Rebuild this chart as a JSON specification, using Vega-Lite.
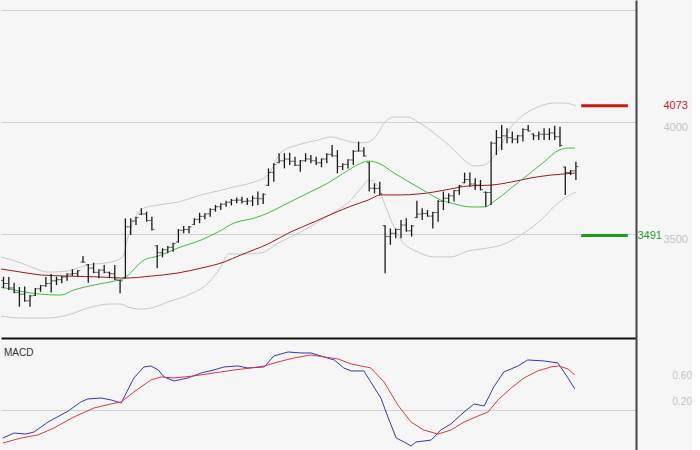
{
"$schema":"https://vega.github.io/schema/vega-lite/v6.json",
"background":"#f6f6f6",
"padding":0,
"spacing":0,
"config":{"view":{"stroke":null},"font":"Liberation Sans"},
"resolve":{"scale":{"x":"independent","y":"independent","color":"independent"}},
"datasets":{
"bars":[
{"i":0,"o":3290,"h":3306,"l":3254,"c":3276},{"i":1,"o":3276,"h":3305,"l":3247,"c":3256},{"i":2,"o":3256,"h":3279,"l":3232,"c":3236},{"i":3,"o":3236,"h":3260,"l":3172,"c":3228},{"i":4,"o":3228,"h":3262,"l":3194,"c":3198},{"i":5,"o":3198,"h":3224,"l":3172,"c":3220},{"i":6,"o":3222,"h":3256,"l":3220,"c":3252},{"i":7,"o":3252,"h":3269,"l":3239,"c":3266},{"i":8,"o":3266,"h":3305,"l":3261,"c":3276},{"i":9,"o":3276,"h":3318,"l":3235,"c":3288},
{"i":10,"o":3288,"h":3306,"l":3269,"c":3293},{"i":11,"o":3293,"h":3310,"l":3277,"c":3305},{"i":12,"o":3305,"h":3322,"l":3288,"c":3318},{"i":13,"o":3318,"h":3340,"l":3310,"c":3321},{"i":14,"o":3321,"h":3336,"l":3306,"c":3333},{"i":15,"o":3372,"h":3399,"l":3369,"c":3372},{"i":16,"o":3360,"h":3363,"l":3279,"c":3345},{"i":17,"o":3345,"h":3369,"l":3322,"c":3326},{"i":18,"o":3326,"h":3340,"l":3299,"c":3336},{"i":19,"o":3336,"h":3359,"l":3322,"c":3326},
{"i":20,"o":3326,"h":3329,"l":3299,"c":3320},{"i":21,"o":3320,"h":3359,"l":3292,"c":3295},{"i":22,"o":3290,"h":3292,"l":3232,"c":3288},{"i":23,"o":3302,"h":3568,"l":3299,"c":3530},{"i":24,"o":3530,"h":3568,"l":3493,"c":3556},{"i":25,"o":3556,"h":3575,"l":3538,"c":3572},{"i":26,"o":3586,"h":3613,"l":3583,"c":3588},{"i":27,"o":3588,"h":3598,"l":3553,"c":3558},{"i":28,"o":3558,"h":3575,"l":3513,"c":3518},{"i":29,"o":3445,"h":3449,"l":3344,"c":3414},
{"i":30,"o":3414,"h":3434,"l":3393,"c":3427},{"i":31,"o":3427,"h":3444,"l":3411,"c":3438},{"i":32,"o":3438,"h":3459,"l":3418,"c":3455},{"i":33,"o":3462,"h":3519,"l":3459,"c":3515},{"i":34,"o":3515,"h":3534,"l":3501,"c":3518},{"i":35,"o":3518,"h":3534,"l":3501,"c":3530},{"i":36,"o":3540,"h":3568,"l":3538,"c":3564},{"i":37,"o":3564,"h":3593,"l":3546,"c":3577},{"i":38,"o":3577,"h":3591,"l":3564,"c":3588},{"i":39,"o":3588,"h":3613,"l":3575,"c":3608},
{"i":40,"o":3608,"h":3628,"l":3598,"c":3620},{"i":41,"o":3620,"h":3636,"l":3605,"c":3632},{"i":42,"o":3632,"h":3647,"l":3620,"c":3640},{"i":43,"o":3640,"h":3655,"l":3626,"c":3649},{"i":44,"o":3649,"h":3662,"l":3636,"c":3650},{"i":45,"o":3650,"h":3665,"l":3635,"c":3644},{"i":46,"o":3644,"h":3659,"l":3628,"c":3646},{"i":47,"o":3646,"h":3670,"l":3623,"c":3658},{"i":48,"o":3658,"h":3688,"l":3628,"c":3656},{"i":49,"o":3656,"h":3680,"l":3632,"c":3676},
{"i":50,"o":3716,"h":3792,"l":3713,"c":3774},{"i":51,"o":3774,"h":3815,"l":3732,"c":3810},{"i":52,"o":3818,"h":3860,"l":3815,"c":3826},{"i":53,"o":3826,"h":3860,"l":3792,"c":3834},{"i":54,"o":3834,"h":3862,"l":3807,"c":3824},{"i":55,"o":3824,"h":3844,"l":3803,"c":3806},{"i":56,"o":3806,"h":3830,"l":3777,"c":3826},{"i":57,"o":3826,"h":3860,"l":3822,"c":3834},{"i":58,"o":3834,"h":3852,"l":3815,"c":3826},{"i":59,"o":3826,"h":3844,"l":3807,"c":3817},
{"i":60,"o":3817,"h":3837,"l":3797,"c":3834},{"i":61,"o":3834,"h":3860,"l":3815,"c":3855},{"i":62,"o":3855,"h":3897,"l":3844,"c":3848},{"i":63,"o":3848,"h":3874,"l":3770,"c":3800},{"i":64,"o":3800,"h":3815,"l":3785,"c":3810},{"i":65,"o":3810,"h":3833,"l":3792,"c":3830},{"i":66,"o":3830,"h":3874,"l":3807,"c":3868},{"i":67,"o":3870,"h":3912,"l":3867,"c":3870},{"i":68,"o":3870,"h":3887,"l":3844,"c":3848},{"i":69,"o":3818,"h":3822,"l":3688,"c":3703},
{"i":70,"o":3703,"h":3725,"l":3680,"c":3702},{"i":71,"o":3702,"h":3732,"l":3673,"c":3678},{"i":72,"o":3535,"h":3538,"l":3322,"c":3486},{"i":73,"o":3486,"h":3523,"l":3449,"c":3501},{"i":74,"o":3501,"h":3523,"l":3479,"c":3518},{"i":75,"o":3518,"h":3561,"l":3479,"c":3538},{"i":76,"o":3538,"h":3568,"l":3508,"c":3512},{"i":77,"o":3512,"h":3538,"l":3486,"c":3534},{"i":78,"o":3572,"h":3647,"l":3568,"c":3587},{"i":79,"o":3587,"h":3613,"l":3561,"c":3590},
{"i":80,"o":3590,"h":3605,"l":3575,"c":3578},{"i":81,"o":3578,"h":3598,"l":3523,"c":3594},{"i":82,"o":3594,"h":3650,"l":3553,"c":3644},{"i":83,"o":3644,"h":3688,"l":3605,"c":3658},{"i":84,"o":3658,"h":3680,"l":3636,"c":3669},{"i":85,"o":3669,"h":3695,"l":3643,"c":3692},{"i":86,"o":3692,"h":3718,"l":3673,"c":3714},{"i":87,"o":3728,"h":3773,"l":3725,"c":3742},{"i":88,"o":3742,"h":3773,"l":3710,"c":3722},{"i":89,"o":3722,"h":3748,"l":3695,"c":3717},
{"i":90,"o":3717,"h":3740,"l":3693,"c":3697},{"i":91,"o":3685,"h":3688,"l":3620,"c":3684},{"i":92,"o":3684,"h":3912,"l":3628,"c":3905},{"i":93,"o":3905,"h":3964,"l":3852,"c":3930},{"i":94,"o":3930,"h":3987,"l":3874,"c":3938},{"i":95,"o":3938,"h":3972,"l":3905,"c":3930},{"i":96,"o":3930,"h":3957,"l":3905,"c":3923},{"i":97,"o":3923,"h":3942,"l":3905,"c":3938},{"i":98,"o":3938,"h":3972,"l":3912,"c":3966},{"i":99,"o":3966,"h":3987,"l":3957,"c":3960},
{"i":100,"o":3946,"h":3949,"l":3919,"c":3938},{"i":101,"o":3938,"h":3957,"l":3919,"c":3945},{"i":102,"o":3945,"h":3972,"l":3919,"c":3945},{"i":103,"o":3945,"h":3972,"l":3919,"c":3951},{"i":104,"o":3951,"h":3983,"l":3919,"c":3934},{"i":105,"o":3934,"h":3979,"l":3889,"c":3895},{"i":106,"o":3798,"h":3800,"l":3673,"c":3774},{"i":107,"o":3774,"h":3785,"l":3762,"c":3781},{"i":108,"o":3781,"h":3822,"l":3740,"c":3800}
],
"lines":[
{"s":"U","i":-0.47,"v":3395},{"s":"U","i":3.3,"v":3368},{"s":"U","i":5.75,"v":3345},{"s":"U","i":8.4,"v":3327},{"s":"U","i":12.2,"v":3332},{"s":"U","i":15.9,"v":3359},{"s":"U","i":20.3,"v":3372},{"s":"U","i":22.5,"v":3395},{"s":"U","i":23.5,"v":3484},{"s":"U","i":24.6,"v":3560},{"s":"U","i":26.5,"v":3614},{"s":"U","i":29.2,"v":3628},{"s":"U","i":32.9,"v":3641},{"s":"U","i":37.3,"v":3673},{"s":"U","i":40.5,"v":3691},{"s":"U","i":43.5,"v":3709},{"s":"U","i":47.3,"v":3731},{"s":"U","i":49.9,"v":3762},{"s":"U","i":52.4,"v":3865},{"s":"U","i":55.6,"v":3897},{"s":"U","i":59.3,"v":3919},{"s":"U","i":61.8,"v":3933},{"s":"U","i":64.2,"v":3919},{"s":"U","i":66.9,"v":3906},{"s":"U","i":68.8,"v":3910},{"s":"U","i":70.7,"v":3951},{"s":"U","i":71.8,"v":3995},{"s":"U","i":73.7,"v":4022},{"s":"U","i":76.3,"v":4022},{"s":"U","i":78.2,"v":4000},{"s":"U","i":81.2,"v":3951},{"s":"U","i":84.4,"v":3888},{"s":"U","i":86.9,"v":3830},{"s":"U","i":88.8,"v":3803},{"s":"U","i":90.7,"v":3807},{"s":"U","i":91.6,"v":3821},{"s":"U","i":93.3,"v":3874},{"s":"U","i":95.8,"v":3978},{"s":"U","i":97.6,"v":4022},{"s":"U","i":100.8,"v":4067},{"s":"U","i":103.9,"v":4085},{"s":"U","i":105.8,"v":4085},{"s":"U","i":108,"v":4072},
{"s":"L","i":-0.47,"v":3130},{"s":"L","i":3.3,"v":3121},{"s":"L","i":8.0,"v":3121},{"s":"L","i":12.2,"v":3135},{"s":"L","i":15.9,"v":3166},{"s":"L","i":20.3,"v":3184},{"s":"L","i":22.2,"v":3184},{"s":"L","i":23.5,"v":3170},{"s":"L","i":25.9,"v":3161},{"s":"L","i":27.8,"v":3166},{"s":"L","i":31.0,"v":3193},{"s":"L","i":34.8,"v":3224},{"s":"L","i":38.6,"v":3278},{"s":"L","i":41.0,"v":3350},{"s":"L","i":42.4,"v":3408},{"s":"L","i":44.8,"v":3408},{"s":"L","i":48.6,"v":3413},{"s":"L","i":51.8,"v":3457},{"s":"L","i":56.1,"v":3507},{"s":"L","i":59.9,"v":3560},{"s":"L","i":62.4,"v":3596},{"s":"L","i":65.0,"v":3637},{"s":"L","i":67.5,"v":3704},{"s":"L","i":69.0,"v":3740},{"s":"L","i":70.5,"v":3717},{"s":"L","i":72.0,"v":3628},{"s":"L","i":73.5,"v":3538},{"s":"L","i":75.0,"v":3471},{"s":"L","i":78.2,"v":3417},{"s":"L","i":81.2,"v":3395},{"s":"L","i":84.4,"v":3395},{"s":"L","i":87.6,"v":3421},{"s":"L","i":91.4,"v":3435},{"s":"L","i":93.9,"v":3448},{"s":"L","i":98.2,"v":3502},{"s":"L","i":101.4,"v":3560},{"s":"L","i":104.6,"v":3637},{"s":"L","i":108,"v":3686},
{"s":"R","i":-0.47,"v":3341},{"s":"R","i":3.3,"v":3327},{"s":"R","i":7.1,"v":3314},{"s":"R","i":12.2,"v":3309},{"s":"R","i":18.4,"v":3305},{"s":"R","i":22.7,"v":3300},{"s":"R","i":27.8,"v":3309},{"s":"R","i":32.9,"v":3323},{"s":"R","i":37.3,"v":3345},{"s":"R","i":41.6,"v":3372},{"s":"R","i":44.8,"v":3404},{"s":"R","i":49.9,"v":3453},{"s":"R","i":54.2,"v":3507},{"s":"R","i":58.6,"v":3552},{"s":"R","i":62.4,"v":3592},{"s":"R","i":65.6,"v":3623},{"s":"R","i":68.8,"v":3650},{"s":"R","i":71.2,"v":3673},{"s":"R","i":75.0,"v":3673},{"s":"R","i":78.2,"v":3677},{"s":"R","i":81.2,"v":3686},{"s":"R","i":84.4,"v":3700},{"s":"R","i":87.6,"v":3713},{"s":"R","i":92.0,"v":3717},{"s":"R","i":95.8,"v":3731},{"s":"R","i":99.5,"v":3749},{"s":"R","i":103.3,"v":3762},{"s":"R","i":105.8,"v":3767},{"s":"R","i":107.8,"v":3771},
{"s":"G","i":-0.47,"v":3260},{"s":"G","i":2.0,"v":3247},{"s":"G","i":3.9,"v":3238},{"s":"G","i":6.5,"v":3229},{"s":"G","i":10.8,"v":3224},{"s":"G","i":13.3,"v":3247},{"s":"G","i":17.1,"v":3269},{"s":"G","i":21.6,"v":3291},{"s":"G","i":22.9,"v":3300},{"s":"G","i":24.1,"v":3327},{"s":"G","i":26.5,"v":3381},{"s":"G","i":29.2,"v":3399},{"s":"G","i":32.9,"v":3435},{"s":"G","i":37.3,"v":3471},{"s":"G","i":40.5,"v":3507},{"s":"G","i":43.5,"v":3547},{"s":"G","i":47.3,"v":3569},{"s":"G","i":49.9,"v":3592},{"s":"G","i":53.7,"v":3637},{"s":"G","i":57.5,"v":3682},{"s":"G","i":61.2,"v":3726},{"s":"G","i":64.2,"v":3771},{"s":"G","i":67.5,"v":3816},{"s":"G","i":68.8,"v":3825},{"s":"G","i":70.7,"v":3816},{"s":"G","i":73.7,"v":3771},{"s":"G","i":76.9,"v":3726},{"s":"G","i":80.1,"v":3682},{"s":"G","i":82.5,"v":3650},{"s":"G","i":84.4,"v":3637},{"s":"G","i":88.2,"v":3619},{"s":"G","i":90.7,"v":3619},{"s":"G","i":92.9,"v":3650},{"s":"G","i":95.8,"v":3704},{"s":"G","i":98.9,"v":3762},{"s":"G","i":102.0,"v":3821},{"s":"G","i":104.8,"v":3874},{"s":"G","i":106.5,"v":3883},{"s":"G","i":107.8,"v":3883}
],
"levels":[{"s":"res","i1":109,"i2":117.8,"v":4073},{"s":"sup","i1":109,"i2":117.8,"v":3491}],
"macd":[
{"s":"M","i":-0.15,"v":-0.416},{"s":"M","i":2.0,"v":-0.341},{"s":"M","i":4.2,"v":-0.356},{"s":"M","i":5.75,"v":-0.326},{"s":"M","i":8.4,"v":-0.176},{"s":"M","i":12.2,"v":-0.011},{"s":"M","i":14.6,"v":0.125},{"s":"M","i":15.9,"v":0.17},{"s":"M","i":18.4,"v":0.185},{"s":"M","i":20.3,"v":0.155},{"s":"M","i":22.2,"v":0.11},{"s":"M","i":24.6,"v":0.485},{"s":"M","i":26.5,"v":0.65},{"s":"M","i":27.8,"v":0.665},{"s":"M","i":29.2,"v":0.605},{"s":"M","i":30.3,"v":0.5},{"s":"M","i":32.2,"v":0.44},{"s":"M","i":34.8,"v":0.485},{"s":"M","i":37.3,"v":0.56},{"s":"M","i":39.7,"v":0.605},{"s":"M","i":41.6,"v":0.65},{"s":"M","i":44.2,"v":0.665},{"s":"M","i":46.1,"v":0.635},{"s":"M","i":49.2,"v":0.65},{"s":"M","i":51.0,"v":0.815},{"s":"M","i":53.7,"v":0.875},{"s":"M","i":56.1,"v":0.86},{"s":"M","i":58.0,"v":0.86},{"s":"M","i":60.5,"v":0.8},{"s":"M","i":62.4,"v":0.755},{"s":"M","i":64.2,"v":0.635},{"s":"M","i":65.6,"v":0.59},{"s":"M","i":68.0,"v":0.59},{"s":"M","i":69.3,"v":0.425},{"s":"M","i":71.2,"v":0.185},{"s":"M","i":72.6,"v":-0.115},{"s":"M","i":74.1,"v":-0.416},{"s":"M","i":75.6,"v":-0.476},{"s":"M","i":76.9,"v":-0.536},{"s":"M","i":77.8,"v":-0.476},{"s":"M","i":80.7,"v":-0.446},{"s":"M","i":82.5,"v":-0.296},{"s":"M","i":84.4,"v":-0.206},{"s":"M","i":86.9,"v":-0.026},{"s":"M","i":88.8,"v":0.095},{"s":"M","i":90.7,"v":0.065},{"s":"M","i":92.5,"v":0.35},{"s":"M","i":94.4,"v":0.575},{"s":"M","i":97.1,"v":0.665},{"s":"M","i":98.9,"v":0.755},{"s":"M","i":102.0,"v":0.74},{"s":"M","i":104.6,"v":0.71},{"s":"M","i":106.5,"v":0.485},{"s":"M","i":107.8,"v":0.32},
{"s":"S","i":-0.1,"v":-0.49},{"s":"S","i":3.3,"v":-0.416},{"s":"S","i":6.5,"v":-0.37},{"s":"S","i":9.5,"v":-0.266},{"s":"S","i":13.3,"v":-0.1},{"s":"S","i":17.1,"v":0.035},{"s":"S","i":20.3,"v":0.095},{"s":"S","i":22.2,"v":0.125},{"s":"S","i":24.6,"v":0.275},{"s":"S","i":27.8,"v":0.455},{"s":"S","i":29.7,"v":0.5},{"s":"S","i":32.2,"v":0.485},{"s":"S","i":35.9,"v":0.515},{"s":"S","i":39.7,"v":0.56},{"s":"S","i":43.5,"v":0.605},{"s":"S","i":46.7,"v":0.635},{"s":"S","i":49.2,"v":0.665},{"s":"S","i":51.8,"v":0.725},{"s":"S","i":54.8,"v":0.785},{"s":"S","i":58.0,"v":0.83},{"s":"S","i":60.5,"v":0.8},{"s":"S","i":63.1,"v":0.77},{"s":"S","i":65.6,"v":0.695},{"s":"S","i":69.3,"v":0.635},{"s":"S","i":71.8,"v":0.425},{"s":"S","i":74.4,"v":0.08},{"s":"S","i":76.9,"v":-0.176},{"s":"S","i":79.3,"v":-0.296},{"s":"S","i":82.0,"v":-0.356},{"s":"S","i":84.4,"v":-0.296},{"s":"S","i":86.9,"v":-0.176},{"s":"S","i":89.5,"v":-0.086},{"s":"S","i":91.4,"v":-0.026},{"s":"S","i":93.3,"v":0.155},{"s":"S","i":95.8,"v":0.335},{"s":"S","i":98.2,"v":0.485},{"s":"S","i":100.8,"v":0.59},{"s":"S","i":103.3,"v":0.65},{"s":"S","i":104.8,"v":0.665},{"s":"S","i":106.5,"v":0.62},{"s":"S","i":107.8,"v":0.53}
]
},
"vconcat":[
{
"width":635,"height":338,
"layer":[
{
"data":{"name":"lines"},
"mark":{"type":"line","interpolate":"monotone","strokeWidth":1,"clip":true},
"encoding":{
"x":{"field":"i","type":"quantitative","scale":{"domain":[-0.47,119.34],"nice":false,"zero":false},
"axis":{"orient":"bottom","title":null,"labels":false,"ticks":false,"grid":false,"domain":true,"domainColor":"#111111","domainWidth":2,"minExtent":0,"maxExtent":0}},
"y":{"field":"v","type":"quantitative","scale":{"domain":[3031.5,4547],"nice":false,"zero":false},
"axis":{"orient":"right","title":null,"values":[3491,3500,4000,4073,4500],"format":"d","ticks":false,"domain":true,"domainColor":"#444444","domainWidth":2,
"grid":true,"gridColor":"#cfcfcf","gridWidth":1,
"gridOpacity":{"condition":{"test":"datum.value==3491||datum.value==4073","value":0},"value":1},
"labelExpr":"datum.value==4500 ? '' : datum.label",
"labelColor":{"condition":[{"test":"datum.value==4073","value":"#c81e1e"},{"test":"datum.value==3491","value":"#1f9e1f"}],"value":"#c4c4c4"},
"labelBaseline":{"condition":{"test":"datum.value==3491||datum.value==4073","value":"middle"},"value":"top"},
"labelPadding":{"condition":{"test":"datum.value==3491","value":1},"value":27},
"labelAlign":"left","labelFont":"Liberation Sans","labelFontSize":11,"labelOverlap":false,"labelBound":false,"labelFlush":false}},
"color":{"field":"s","type":"nominal","scale":{"domain":["U","L","R","G","res","sup"],"range":["#c9c9c9","#c9c9c9","#9e1a1a","#44bb44","#cc1515","#1e9e1e"]},"legend":null},
"detail":{"field":"s"}
}
},
{
"data":{"name":"levels"},
"mark":{"type":"rule","strokeWidth":3},
"encoding":{
"x":{"field":"i1","type":"quantitative"},
"x2":{"field":"i2"},
"y":{"field":"v","type":"quantitative"},
"color":{"field":"s","type":"nominal","legend":null}
}
},
{
"data":{"name":"bars"},
"mark":{"type":"rule","color":"#1a1a1a","strokeWidth":1.3},
"encoding":{
"x":{"field":"i","type":"quantitative"},
"y":{"field":"l","type":"quantitative"},
"y2":{"field":"h"}
}
},
{
"data":{"name":"bars"},
"mark":{"type":"tick","orient":"horizontal","color":"#1a1a1a","size":2,"thickness":1,"xOffset":-1.5},
"encoding":{
"x":{"field":"i","type":"quantitative"},
"y":{"field":"o","type":"quantitative"}
}
},
{
"data":{"name":"bars"},
"mark":{"type":"tick","orient":"horizontal","color":"#1a1a1a","size":2,"thickness":1,"xOffset":1.5},
"encoding":{
"x":{"field":"i","type":"quantitative"},
"y":{"field":"c","type":"quantitative"}
}
}
]
},
{
"width":635,"height":112,
"title":{"text":"MACD","anchor":"start","frame":"group","offset":-20,"dx":3,"fontSize":10,"fontWeight":"normal","color":"#333333","font":"Liberation Sans"},
"data":{"name":"macd"},
"mark":{"type":"line","strokeWidth":1,"clip":true},
"encoding":{
"x":{"field":"i","type":"quantitative","scale":{"domain":[-0.47,119.34],"nice":false,"zero":false},"axis":null},
"y":{"field":"v","type":"quantitative","scale":{"domain":[-0.5955,1.0845],"nice":false,"zero":false},
"axis":{"orient":"right","title":null,"values":[0,0.2,0.6],"format":".2f","ticks":false,"domain":true,"domainColor":"#444444","domainWidth":2,
"grid":true,"gridColor":"#cfcfcf",
"gridOpacity":{"condition":{"test":"datum.value==0","value":1},"value":0},
"labelExpr":"datum.value==0 ? '' : datum.label",
"labelColor":"#c4c4c4","labelBaseline":"top","labelPadding":36,"labelAlign":"left","labelFontSize":10,"labelOverlap":false,"labelBound":false,"labelFlush":false}},
"color":{"field":"s","type":"nominal","scale":{"domain":["M","S"],"range":["#3535c8","#e03a3a"]},"legend":null}
}
}
]
}
